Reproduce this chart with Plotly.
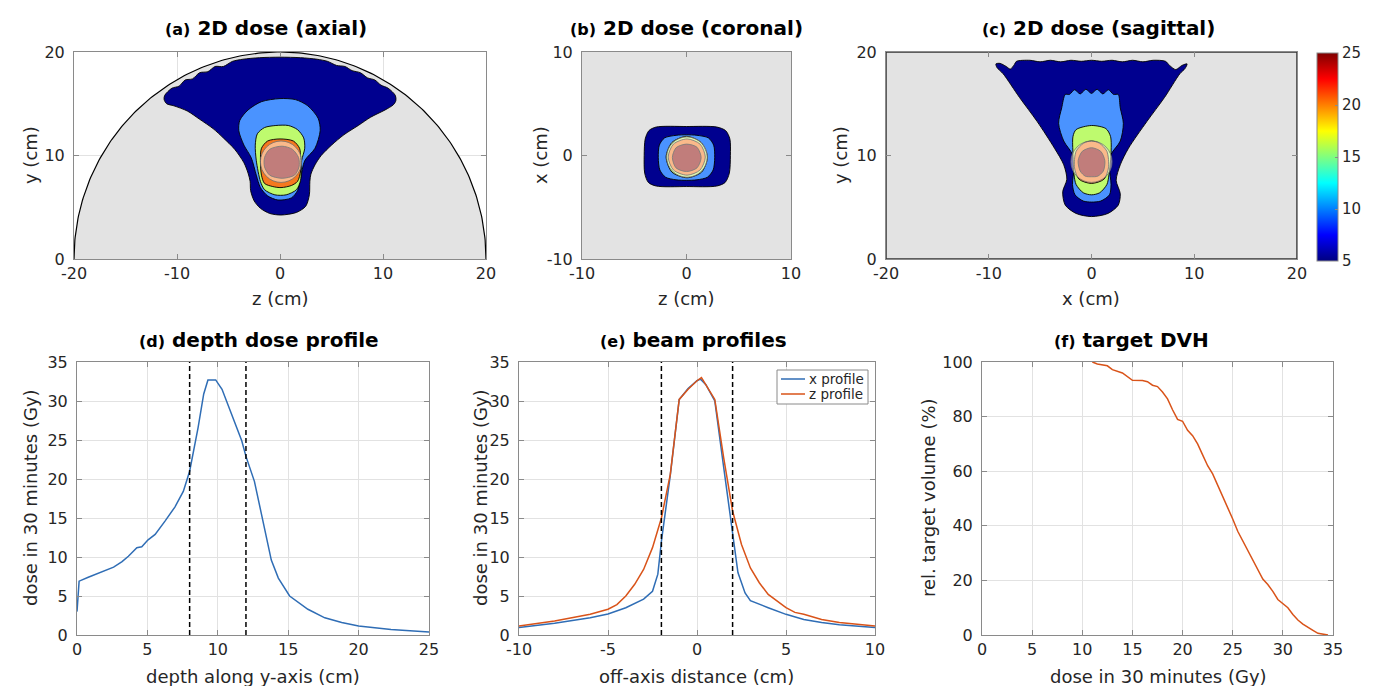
import numpy as np
import plotly.graph_objects as go

W, H = 1373, 686
FONT = "DejaVu Sans, Verdana, sans-serif"

# ---------------- data: 1D profiles ----------------
depth_cm = [0.0, 0.15, 0.8, 1.75, 2.6, 3.2, 3.65, 4.25, 4.6, 5.05, 5.55, 6.25, 6.95, 7.55, 8.0,
            8.6, 9.0, 9.3, 9.85, 10.3, 10.7, 11.2, 11.7, 12.0, 12.6, 13.1, 13.5, 13.8, 14.3,
            15.1, 16.4, 17.6, 18.8, 20.0, 22.3, 25.0]
depth_dose_gy = [3.0, 6.9, 7.4, 8.1, 8.7, 9.4, 10.1, 11.2, 11.3, 12.2, 12.9, 14.6, 16.4, 18.4, 21.0,
                 26.6, 30.9, 32.7, 32.7, 31.5, 29.6, 27.4, 24.9, 22.9, 19.7, 15.5, 11.9, 9.6, 7.3,
                 5.0, 3.3, 2.2, 1.6, 1.15, 0.7, 0.4]
target_edges_depth = [8, 12]

offaxis_x_cm = [-10, -8, -6, -5, -4, -3, -2.5, -2.2, -2.0, -1.5, -1.0, -0.5, 0.0, 0.2, 0.5, 1.0,
                1.5, 2.0, 2.3, 2.7, 3.0, 4.0, 5.0, 6.0, 7.0, 8.0, 10.0]
dose_x_profile = [0.95, 1.5, 2.2, 2.7, 3.5, 4.6, 5.6, 7.8, 12.0, 20.5, 30.2, 31.6, 32.6, 32.8, 32.1,
                  30.0, 21.5, 12.9, 8.0, 5.4, 4.4, 3.5, 2.65, 2.0, 1.6, 1.3, 0.95]
offaxis_z_cm = [-10, -8, -6, -5, -4.5, -4, -3.5, -3, -2.5, -2, -1.5, -1, -0.5, 0, 0.25, 0.5, 1,
                1.5, 2, 2.5, 3, 3.5, 4, 5, 5.5, 6, 7, 8, 10]
dose_z_profile = [1.15, 1.8, 2.65, 3.3, 3.9, 5.0, 6.5, 8.4, 11.2, 15.0, 20.6, 30.2, 31.5, 32.6, 33.0,
                  32.1, 30.2, 22.7, 15.9, 11.6, 8.6, 6.7, 5.2, 3.5, 2.9, 2.65, 2.0, 1.6, 1.15]
target_edges_offaxis = [-2, 2]
profile_names = ["x profile", "z profile"]
profile_colors = ["#2F6DB5", "#D95319"]

dvh_dose_gy = [11.0, 11.5, 12.5, 13.0, 14.0, 15.0, 16.0, 16.5, 17.0, 17.5, 18.0, 18.5, 19.0, 19.5,
               20.0, 20.5, 21.0, 21.5, 22.0, 22.5, 23.0, 23.5, 24.0, 24.5, 25.0, 25.5, 26.0, 26.5,
               27.0, 27.5, 28.0, 28.5, 29.0, 29.5, 30.0, 30.5, 31.0, 31.5, 32.0, 32.5, 33.0, 33.5,
               34.0, 34.5]
dvh_volume_pct = [100, 99.3, 98.6, 97.2, 96.0, 93.3, 93.2, 92.8, 91.5, 91.0, 89.0, 86.5, 82.5, 79.0,
                  78.3, 75.0, 73.0, 70.0, 66.0, 62.0, 59.0, 55.0, 50.5, 47.0, 42.5, 38.0, 34.5, 31.0,
                  27.5, 24.0, 20.5, 18.5, 16.0, 13.0, 11.5, 10.0, 7.5, 5.5, 4.0, 3.0, 1.7, 0.6,
                  0.3, 0.0]

# ---------------- data: isodose contours ----------------
iso_levels = [5, 10, 15, 20, 25]
iso_colors = ["#00008F", "#4A93FF", "#BEFA6E", "#F5781E", "#820000"]

# axial (z, y)
axial_iso5_z = [-11.2, -10.5, -9.8, -9.2, -8.5, -7.8, -7.0, -6.3, -5.5, -4.6, -3.6, -2.0, 0.0, 2.0,
                3.6, 4.6, 5.5, 6.3, 7.0, 7.8, 8.5, 9.2, 9.8, 10.5, 11.2, 11.25, 11.0, 10.2, 8.8,
                7.6, 6.2, 5.0, 4.0, 3.4, 3.0, 2.9, 2.85, 2.5, 1.6, 0.1, -1.0, -1.9, -2.5, -2.85,
                -2.9, -3.1, -3.5, -4.4, -5.5, -6.5, -7.8, -9.0, -10.3, -11.0, -11.25]
axial_iso5_y = [15.8, 16.5, 16.7, 17.3, 17.4, 18.0, 18.1, 18.6, 18.6, 19.1, 19.3, 19.45, 19.5, 19.45,
                19.3, 19.1, 18.7, 18.6, 18.2, 18.0, 17.5, 17.3, 16.8, 16.5, 15.8, 15.3, 14.9, 14.4,
                13.7, 12.9, 12.0, 11.0, 10.0, 9.1, 8.2, 7.5, 6.2, 5.1, 4.5, 4.25, 4.4, 4.9, 5.6,
                6.6, 7.5, 8.3, 9.3, 10.6, 11.7, 12.6, 13.5, 14.3, 14.8, 15.0, 15.4]
axial_iso10_z = [0.0, 1.5, 2.7, 3.7, 3.9, 3.4, 2.4, 2.0, 1.7, 1.1, -0.2, -1.2, -1.9, -2.3, -2.8,
                 -3.5, -4.0, -3.9, -3.1, -1.8]
axial_iso10_y = [15.5, 15.4, 14.8, 13.6, 12.4, 10.7, 9.5, 7.8, 6.6, 5.9, 5.7, 6.1, 6.9, 8.1, 9.8,
                 11.0, 12.4, 13.4, 14.4, 15.2]
axial_iso15_z = [-0.4, -1.5, -2.2, -2.4, -2.3, -1.9, -1.5, -0.5, 0.6, 1.6, 2.0, 2.1, 2.4, 2.3, 1.7, 0.8]
axial_iso15_y = [12.9, 12.7, 12.1, 11.0, 9.5, 7.5, 6.7, 6.2, 6.2, 6.7, 7.6, 9.5, 10.7, 11.7, 12.5, 12.9]
axial_iso20_z = [0.0, 1.3, 1.9, 2.0, 2.0, 1.7, 1.1, 0.1, -0.7, -1.5, -1.8, -1.9, -1.8, -1.2]
axial_iso20_y = [11.6, 11.4, 10.7, 9.8, 8.5, 7.5, 7.1, 6.9, 7.0, 7.3, 8.1, 9.5, 10.7, 11.4]
axial_iso25_z = [0.2, 1.2, 1.8, 1.85, 1.4, 0.2, -1.0, -1.5, -1.5, -1.0]
axial_iso25_y = [10.9, 10.6, 9.8, 8.9, 8.1, 7.8, 8.1, 8.9, 9.8, 10.6]

# coronal (z, x)
coronal_iso5_z = [-4.05, -3.95, -3.6, -2.9, 0.0, 2.9, 3.75, 4.15, 4.2, 4.1, 3.7, 2.9, 0.0, -2.9, -3.65, -4.0]
coronal_iso5_x = [0.0, 1.6, 2.4, 2.75, 2.8, 2.75, 2.4, 1.6, 0.0, -1.7, -2.6, -2.95, -3.0, -2.95, -2.6, -1.7]
coronal_iso10_z = [-2.7, -2.6, -2.1, -1.0, 0.0, 1.0, 2.1, 2.6, 2.7, 2.55, 2.0, 1.0, 0.0, -1.0, -2.0, -2.55]
coronal_iso10_x = [-0.2, 1.0, 1.7, 1.95, 2.0, 1.95, 1.7, 1.0, -0.2, -1.4, -2.1, -2.35, -2.4, -2.35, -2.1, -1.4]
coronal_iso15_z = [-1.95, -1.4, 0.0, 1.4, 2.0, 1.45, 0.05, -1.4]
coronal_iso15_x = [-0.15, 1.25, 1.85, 1.25, -0.15, -1.6, -2.15, -1.6]
coronal_iso20_z = [-1.75, -1.25, 0.05, 1.3, 1.8, 1.3, 0.05, -1.25]
coronal_iso20_x = [-0.15, 1.1, 1.6, 1.1, -0.15, -1.4, -1.9, -1.4]
coronal_iso25_z = [-1.35, -1.0, 0.0, 1.0, 1.4, 1.0, 0.0, -1.0]
coronal_iso25_x = [-0.2, 0.75, 1.1, 0.8, -0.2, -1.2, -1.55, -1.2]

# sagittal (x, y)
sagittal_iso5_x = [-9.3, -8.9, -8.3, -7.9, -7.5, -7.3, -6.0, -5.0, -4.0, -3.0, -2.0, -1.0, 0.0, 1.0,
                   2.0, 3.0, 4.0, 5.0, 6.0, 7.2, 7.6, 8.2, 8.8, 9.3, 9.1, 8.6, 7.1, 5.4, 3.6, 2.8,
                   2.4, 2.8, 2.6, 1.6, 0.0, -1.5, -2.55, -2.8, -2.4, -2.7, -3.6, -5.3, -7.0, -8.6, -9.2]
sagittal_iso5_y = [18.85, 18.9, 18.6, 18.35, 18.8, 19.1, 19.2, 19.05, 19.2, 19.05, 19.2, 19.1, 19.2,
                   19.1, 19.2, 19.05, 19.2, 19.05, 19.2, 19.1, 18.7, 18.3, 18.7, 18.85, 18.4, 17.9,
                   15.6, 13.3, 10.7, 9.1, 7.6, 6.3, 5.2, 4.4, 4.1, 4.4, 5.2, 6.5, 7.7, 9.1, 10.7,
                   13.3, 15.6, 17.9, 18.5]
sagittal_iso10_x = [-2.55, -2.15, -1.65, -1.1, -0.55, 0.0, 0.55, 1.1, 1.65, 2.15, 2.6, 2.8, 3.1, 2.8,
                    1.9, 1.75, 1.9, 1.75, 0.9, 0.0, -0.8, -1.6, -1.85, -1.7, -1.85, -2.7, -3.2, -2.9]
sagittal_iso10_y = [15.9, 15.9, 16.35, 15.95, 16.4, 16.0, 16.4, 15.95, 16.35, 15.9, 15.9, 14.6, 13.1,
                    11.4, 10.1, 8.8, 7.2, 6.2, 5.6, 5.5, 5.6, 6.2, 7.2, 8.8, 10.1, 11.4, 13.1, 14.6]
sagittal_iso15_x = [0.0, 1.4, 1.85, 1.9, 1.7, 1.5, 0.8, 0.0, -0.8, -1.5, -1.7, -1.8, -1.8, -1.5]
sagittal_iso15_y = [12.9, 12.6, 11.85, 10.1, 8.15, 7.2, 6.4, 6.2, 6.4, 7.2, 8.15, 10.1, 11.85, 12.5]
sagittal_iso20_x = [0.0, 0.75, 1.5, 1.65, 1.2, 0.0, -1.2, -1.65, -1.5, -0.75]
sagittal_iso20_y = [11.4, 11.2, 10.4, 8.8, 7.7, 7.3, 7.7, 8.8, 10.4, 11.2]
sagittal_iso25_x = [0.0, 0.9, 1.3, 1.15, 0.6, 0.0, -0.6, -1.1, -1.3, -0.9]
sagittal_iso25_y = [10.75, 10.4, 9.5, 8.5, 8.0, 7.95, 8.0, 8.5, 9.5, 10.4]

phantom_radius_cm = 20
phantom_half_width_cm = 20
phantom_depth_cm = 20
# target sphere (centre u, centre v, radius) in each view
target_axial = (0.1, 9.4, 2.0)
target_coronal = (0.05, -0.15, 1.95)
target_sagittal = (0.0, 9.4, 2.0)

colorbar_ticks = [5, 10, 15, 20, 25]

# ---------------- figure ----------------
fig = go.Figure()

def px_x(a, b):
    return [a / W, b / W]

def px_y(top, bottom):
    return [1 - bottom / H, 1 - top / H]

GRAY_BG = "#e3e3e3"
AX_COL = "#8a8a8a"
TXT = "#262626"

def axis(domain, rng, vals, anchor, grid=False, size=16, standoff=None):
    d = dict(domain=domain, range=rng, tickvals=vals, ticktext=[str(v) for v in vals],
             anchor=anchor, showline=True, linecolor=AX_COL, linewidth=1, mirror="ticks",
             ticks="inside", ticklen=5, tickwidth=1, tickcolor=AX_COL, showgrid=grid,
             gridcolor="#e2e2e2", gridwidth=1, zeroline=False, fixedrange=True,
             automargin=False, tickfont=dict(family=FONT, size=size, color=TXT))
    if standoff is not None:
        d["ticklabelstandoff"] = standoff
    return d

def add_poly(u, v, color, xa, ya):
    fig.add_trace(go.Scatter(x=list(u) + [u[0]], y=list(v) + [v[0]], mode="lines", fill="toself",
                             fillcolor=color, line=dict(color="black", width=0.9, shape="spline",
                                                        smoothing=0.8),
                             xaxis=xa, yaxis=ya, showlegend=False, hoverinfo="skip"))

# (a) axial: semicircular phantom
theta = np.linspace(0, np.pi, 241)
fig.add_trace(go.Scatter(x=phantom_radius_cm * np.cos(theta), y=phantom_radius_cm * np.sin(theta),
                         mode="lines", fill="toself", fillcolor=GRAY_BG,
                         line=dict(color="black", width=1.2), xaxis="x", yaxis="y",
                         showlegend=False, hoverinfo="skip"))
axial = [(axial_iso5_z, axial_iso5_y), (axial_iso10_z, axial_iso10_y), (axial_iso15_z, axial_iso15_y),
         (axial_iso20_z, axial_iso20_y), (axial_iso25_z, axial_iso25_y)]
for (u, v), c in zip(axial, iso_colors):
    add_poly(u, v, c, "x", "y")

coronal = [(coronal_iso5_z, coronal_iso5_x), (coronal_iso10_z, coronal_iso10_x),
           (coronal_iso15_z, coronal_iso15_x), (coronal_iso20_z, coronal_iso20_x),
           (coronal_iso25_z, coronal_iso25_x)]
for (u, v), c in zip(coronal, iso_colors):
    add_poly(u, v, c, "x2", "y2")

sagittal = [(sagittal_iso5_x, sagittal_iso5_y), (sagittal_iso10_x, sagittal_iso10_y),
            (sagittal_iso15_x, sagittal_iso15_y), (sagittal_iso20_x, sagittal_iso20_y),
            (sagittal_iso25_x, sagittal_iso25_y)]
for (u, v), c in zip(sagittal, iso_colors):
    add_poly(u, v, c, "x3", "y3")

# colour bar (jet, MATLAB style)
jet = [[0.0, "rgb(0,0,128)"], [0.125, "rgb(0,0,255)"], [0.375, "rgb(0,255,255)"],
       [0.625, "rgb(255,255,0)"], [0.875, "rgb(255,0,0)"], [1.0, "rgb(128,0,0)"]]
cbar = dict(x=1309 / W, xanchor="left", y=1 - 149 / H, yanchor="middle", len=208 / H,
            lenmode="fraction", thickness=21, thicknessmode="pixels",
            outlinecolor=AX_COL, outlinewidth=1, tickvals=colorbar_ticks,
            ticktext=[str(t) for t in colorbar_ticks], ticks="inside", ticklen=3,
            tickcolor=AX_COL, xpad=0, ypad=0,
            tickfont=dict(family=FONT, size=15, color=TXT))
fig.add_trace(go.Scatter(x=[None], y=[None], mode="markers", xaxis="x3", yaxis="y3",
                         showlegend=False, hoverinfo="skip",
                         marker=dict(color=[iso_levels[0]], cmin=iso_levels[0], cmax=iso_levels[-1],
                                     colorscale=jet, showscale=True, colorbar=cbar)))

# (d) depth dose
fig.add_trace(go.Scatter(x=depth_cm, y=depth_dose_gy, mode="lines", line=dict(color=profile_colors[0], width=1.5),
                         xaxis="x4", yaxis="y4", showlegend=False))
# (e) beam profiles
fig.add_trace(go.Scatter(x=offaxis_x_cm, y=dose_x_profile, mode="lines", name=profile_names[0],
                         line=dict(color=profile_colors[0], width=1.5), xaxis="x5", yaxis="y5",
                         showlegend=False))
fig.add_trace(go.Scatter(x=offaxis_z_cm, y=dose_z_profile, mode="lines", name=profile_names[1],
                         line=dict(color=profile_colors[1], width=1.5), xaxis="x5", yaxis="y5",
                         showlegend=False))
# (f) DVH
fig.add_trace(go.Scatter(x=dvh_dose_gy, y=dvh_volume_pct, mode="lines", line=dict(color=profile_colors[1], width=1.5),
                         xaxis="x6", yaxis="y6", showlegend=False))

shapes = []
# backgrounds of (b) and (c)
shapes.append(dict(type="rect", xref="x2 domain", yref="y2 domain", x0=0, x1=1, y0=0, y1=1,
                   fillcolor=GRAY_BG, line=dict(width=0), layer="below"))
shapes.append(dict(type="rect", xref="x3", yref="y3", x0=-phantom_half_width_cm, x1=phantom_half_width_cm,
                   y0=0, y1=phantom_depth_cm, fillcolor=GRAY_BG, line=dict(color="#333333", width=1.5),
                   layer="below"))
# target overlays
for (cx, cy, r), xr, yr in [(target_axial, "x", "y"), (target_coronal, "x2", "y2"),
                            (target_sagittal, "x3", "y3")]:
    shapes.append(dict(type="circle", xref=xr, yref=yr, x0=cx - r, x1=cx + r, y0=cy - r, y1=cy + r,
                       fillcolor="rgba(255,250,245,0.5)", line=dict(color="rgba(110,110,110,0.8)", width=1),
                       layer="above"))
# target edges (dashed)
for xv in target_edges_depth:
    shapes.append(dict(type="line", xref="x4", yref="y4 domain", x0=xv, x1=xv, y0=0, y1=1,
                       line=dict(color="black", width=1.5, dash="5px,3px")))
for xv in target_edges_offaxis:
    shapes.append(dict(type="line", xref="x5", yref="y5 domain", x0=xv, x1=xv, y0=0, y1=1,
                       line=dict(color="black", width=1.5, dash="5px,3px")))

# compact legend box for panel (e)
shapes.append(dict(type="rect", xref="paper", yref="paper", x0=769 / W, x1=860 / W,
                   y0=1 - 396 / H, y1=1 - 362 / H, fillcolor="white",
                   line=dict(color=AX_COL, width=1), layer="above"))
ann = []
for i, (nm, col) in enumerate(zip(profile_names, profile_colors)):
    yy = 1 - (371 + 15 * i) / H
    shapes.append(dict(type="line", xref="paper", yref="paper", x0=773 / W, x1=797 / W,
                       y0=yy, y1=yy, line=dict(color=col, width=1.5), layer="above"))
    ann.append(dict(x=799 / W, y=yy, xref="paper", yref="paper", showarrow=False,
                    xanchor="left", yanchor="middle", text=nm,
                    font=dict(family=FONT, size=13.5, color=TXT)))

top_y = px_y(44, 251)
bot_y = px_y(354, 627)

layout = dict(
    width=W, height=H, margin=dict(l=0, r=0, t=0, b=0, autoexpand=False),
    paper_bgcolor="white", plot_bgcolor="white", shapes=shapes, showlegend=False,
    xaxis=axis(px_x(66, 478), [-20, 20], [-20, -10, 0, 10, 20], "y", grid=True),
    yaxis=axis(top_y, [0, 20], [0, 10, 20], "x", grid=True, standoff=5),
    xaxis2=axis(px_x(574, 783), [-10, 10], [-10, 0, 10], "y2"),
    yaxis2=axis(top_y, [-10, 10], [-10, 0, 10], "x2", standoff=5),
    xaxis3=axis(px_x(878, 1289), [-20, 20], [-20, -10, 0, 10, 20], "y3"),
    yaxis3=axis(top_y, [0, 20], [0, 10, 20], "x3", standoff=5),
    xaxis4=axis(px_x(69, 421), [0, 25], [0, 5, 10, 15, 20, 25], "y4", grid=True),
    yaxis4=axis(bot_y, [0, 35], [0, 5, 10, 15, 20, 25, 30, 35], "x4", grid=True, standoff=5),
    xaxis5=axis(px_x(511, 867), [-10, 10], [-10, -5, 0, 5, 10], "y5", grid=True),
    yaxis5=axis(bot_y, [0, 35], [0, 5, 10, 15, 20, 25, 30, 35], "x5", grid=True, standoff=5),
    xaxis6=axis(px_x(974, 1325), [0, 35], [0, 5, 10, 15, 20, 25, 30, 35], "y6", grid=True),
    yaxis6=axis(bot_y, [0, 100], [0, 20, 40, 60, 80, 100], "x6", grid=True, standoff=5),
)
fig.update_layout(**layout)

def title(cx, cy, tag, text):
    ann.append(dict(x=cx / W, y=1 - cy / H, xref="paper", yref="paper", showarrow=False,
                    xanchor="center", yanchor="middle",
                    text=f"<b><span style='font-size:16px'>{tag}</span> {text}</b>",
                    font=dict(family=FONT, size=20, color="black")))

def label(cx, cy, text, angle=0):
    ann.append(dict(x=cx / W, y=1 - cy / H, xref="paper", yref="paper", showarrow=False,
                    xanchor="center", yanchor="middle", text=text, textangle=angle,
                    font=dict(family=FONT, size=18, color=TXT)))

title(258, 20, "(a)", "2D dose (axial)")
title(678, 20, "(b)", "2D dose (coronal)")
title(1090, 20, "(c)", "2D dose (sagittal)")
title(251, 332, "(d)", "depth dose profile")
title(685, 332, "(e)", "beam profiles")
title(1123, 332, "(f)", "target DVH")

label(272, 290, "z (cm)")
label(22, 147, "y (cm)", -90)
label(678, 290, "z (cm)")
label(532, 147, "x (cm)", -90)
label(1083, 290, "x (cm)")
label(832, 147, "y (cm)", -90)
label(245, 668, "depth along y-axis (cm)")
label(22, 490, "dose in 30 minutes (Gy)", -90)
label(689, 668, "off-axis distance (cm)")
label(472, 490, "dose in 30 minutes (Gy)", -90)
label(1150, 668, "dose in 30 minutes (Gy)")
label(920, 490, "rel. target volume (%)", -90)

fig.update_layout(annotations=ann)
fig.write_html("out.html")
